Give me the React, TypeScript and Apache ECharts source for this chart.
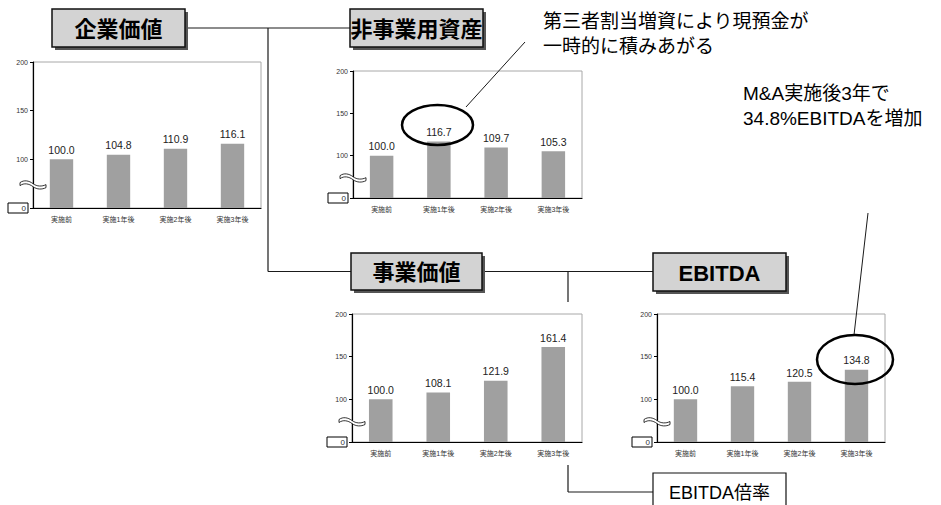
import React, { useEffect, useRef } from "react";
import * as echarts from "echarts";

// ---- data ----
const categories = ["実施前", "実施1年後", "実施2年後", "実施3年後"];
const enterpriseValue = [100.0, 104.8, 110.9, 116.1];
const nonOperatingAssets = [100.0, 116.7, 109.7, 105.3];
const businessValue = [100.0, 108.1, 121.9, 161.4];
const ebitda = [100.0, 115.4, 120.5, 134.8];
const yTickValues = [50, 100, 150, 200]; // axis is broken: 50 is shown as "0"
const yBreakLabel = "0";
const titles = ["企業価値", "非事業用資産", "事業価値", "EBITDA"];
const note1 = ["第三者割当増資により現預金が", "一時的に積みあがる"];
const note2 = ["M&A実施後3年で", "34.8%EBITDAを増加"];
const ratioTitle = "EBITDA倍率";

const seriesList = [enterpriseValue, nonOperatingAssets, businessValue, ebitda];

const grids = [
  { left: 33, top: 62, width: 228, height: 146 },
  { left: 353, top: 71, width: 229, height: 127 },
  { left: 352, top: 314, width: 230, height: 128 },
  { left: 657, top: 314, width: 228, height: 128 },
];

const titleBoxes = [
  { x: 52, y: 9, w: 133, h: 38 },
  { x: 350, y: 9, w: 133, h: 38 },
  { x: 351, y: 253, w: 131, h: 37 },
  { x: 653, y: 253, w: 133, h: 38 },
];

const LATIN = "'Liberation Sans', Arial, 'Noto Sans CJK JP', sans-serif";

echarts.graphic.registerShape(
  "axisbreak",
  echarts.graphic.extendPath(
    "M0,2 C4,-1 9,0 13,3 C17,6 22,6 26,4 L26,7 C22,9 17,9 13,6 C9,3 4,2 0,5 Z",
    {}
  )
);

export default function App() {
  const ref = useRef<HTMLDivElement>(null);
  useEffect(() => {
    if (!ref.current) return;
    const chart = echarts.init(ref.current, null, { renderer: "svg" });

    const graphic: any[] = [];
    const line = (x1: number, y1: number, x2: number, y2: number, w = 1.2) =>
      graphic.push({
        type: "line",
        z: 50,
        shape: { x1, y1, x2, y2 },
        style: { stroke: "#1a1a1a", lineWidth: w },
      });

    // connector lines
    line(185, 28, 350, 28);
    line(268, 28, 268, 271.5);
    line(268, 271.5, 351, 271.5);
    line(482, 271.5, 653, 271.5);
    line(568, 271.5, 568, 302);
    line(568, 465, 568, 492);
    line(568, 492, 653, 492);

    // title boxes
    titleBoxes.forEach((b, i) => {
      graphic.push({
        type: "rect",
        z: 60,
        shape: { x: b.x + 3, y: b.y + 3, width: b.w, height: b.h },
        style: { fill: "#555" },
      });
      graphic.push({
        type: "rect",
        z: 61,
        shape: { x: b.x, y: b.y, width: b.w, height: b.h },
        style: { fill: "#d3d3d3", stroke: "#111", lineWidth: 1.5 },
      });
      graphic.push({
        type: "text",
        z: 62,
        x: b.x + b.w / 2,
        y: b.y + b.h / 2 + 1,
        style: {
          text: titles[i],
          font: `bold 22px ${LATIN}`,
          fill: "#000",
          textAlign: "center",
          textVerticalAlign: "middle",
          align: "center",
          verticalAlign: "middle",
        },
      });
    });

    // EBITDA倍率 box
    graphic.push({
      type: "rect",
      z: 61,
      shape: { x: 653, y: 473, width: 133, height: 40 },
      style: { fill: "#fff", stroke: "#111", lineWidth: 1.2 },
    });
    graphic.push({
      type: "text",
      z: 62,
      x: 719.5,
      y: 493,
      style: {
        text: ratioTitle,
        font: `18px ${LATIN}`,
        fill: "#000",
        textAlign: "center",
        textVerticalAlign: "middle",
        align: "center",
        verticalAlign: "middle",
      },
    });

    // annotation texts
    note1.forEach((t, i) =>
      graphic.push({
        type: "text",
        z: 62,
        x: 543,
        y: 21 + i * 25.5,
        style: {
          text: t,
          font: `19px ${LATIN}`,
          fill: "#000",
          textAlign: "left",
          textVerticalAlign: "middle",
          align: "left",
          verticalAlign: "middle",
        },
      })
    );
    note2.forEach((t, i) =>
      graphic.push({
        type: "text",
        z: 62,
        x: 743,
        y: 93 + i * 25,
        style: {
          text: t,
          font: `19px ${LATIN}`,
          fill: "#000",
          textAlign: "left",
          textVerticalAlign: "middle",
          align: "left",
          verticalAlign: "middle",
        },
      })
    );

    // annotation ellipses and pointer lines
    graphic.push({
      type: "ellipse",
      z: 70,
      shape: { cx: 437.5, cy: 125, rx: 35.5, ry: 20 },
      style: { fill: "none", stroke: "#000", lineWidth: 2.5 },
    });
    line(466, 107, 525, 42, 1);
    graphic.push({
      type: "ellipse",
      z: 70,
      shape: { cx: 855, cy: 359.5, rx: 38, ry: 24.5 },
      style: { fill: "none", stroke: "#000", lineWidth: 2.5 },
    });
    line(868, 213, 854, 335, 1);

    // axis break marks
    grids.forEach((g) => {
      const cy = g.top + (g.height * (200 - 74)) / 150;
      graphic.push({
        type: "axisbreak",
        z: 80,
        x: g.left - 13,
        y: cy - 4,
        style: { fill: "#fff", stroke: "#000", lineWidth: 0.8 },
      });
    });

    const option: any = {
      animation: false,
      backgroundColor: "#fff",
      grid: grids.map((g) => ({
        ...g,
        show: true,
        borderColor: "#a8a8a8",
        borderWidth: 1,
        backgroundColor: "transparent",
        containLabel: false,
      })),
      xAxis: grids.map((_, i) => ({
        type: "category",
        gridIndex: i,
        data: categories,
        axisLine: { lineStyle: { color: "#000", width: 1.2 } },
        axisTick: { inside: true, length: 3, lineStyle: { color: "#000" } },
        axisLabel: {
          fontSize: 7,
          color: "#333",
          margin: 8,
          fontFamily: LATIN,
        },
        splitLine: { show: false },
      })),
      yAxis: grids.map((_, i) => ({
        type: "value",
        gridIndex: i,
        min: yTickValues[0],
        max: yTickValues[yTickValues.length - 1],
        interval: yTickValues[1] - yTickValues[0],
        axisLine: { show: true, lineStyle: { color: "#000", width: 1.2 } },
        axisTick: { show: true, length: 3, lineStyle: { color: "#000" } },
        splitLine: { show: false },
        axisLabel: {
          fontSize: 7,
          color: "#333",
          margin: 5,
          fontFamily: LATIN,
          formatter: (v: number) =>
            v === yTickValues[0] ? `{b|${yBreakLabel}}` : String(v),
          rich: {
            b: {
              fontSize: 8,
              color: "#333",
              borderColor: "#000",
              borderWidth: 1,
              width: 16,
              height: 8,
              align: "right",
              padding: [1, 2, 1, 2],
              lineHeight: 8,
              fontFamily: LATIN,
            },
          },
        },
      })),
      series: seriesList.map((d, i) => ({
        type: "bar",
        xAxisIndex: i,
        yAxisIndex: i,
        data: d,
        barWidth: "41%",
        itemStyle: { color: "#a0a0a0" },
        label: {
          show: true,
          position: "top",
          distance: 4,
          fontSize: 10.5,
          color: "#222",
          fontFamily: LATIN,
          formatter: (p: any) => Number(p.value).toFixed(1),
        },
      })),
      graphic,
    };

    chart.setOption(option);
    return () => chart.dispose();
  }, []);

  return (
    <div
      ref={ref}
      style={{ position: "absolute", left: 0, top: 0, width: 941, height: 505 }}
    />
  );
}
